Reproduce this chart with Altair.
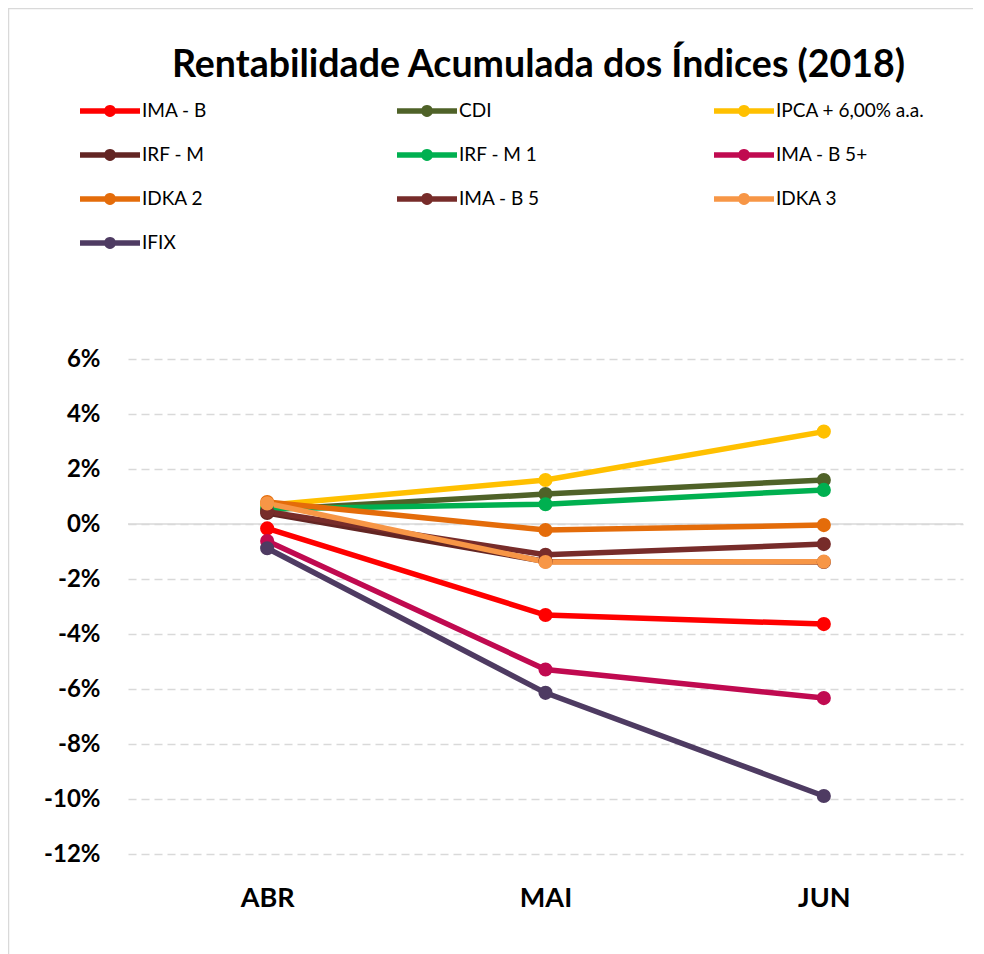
import altair as alt
import pandas as pd

months = ["ABR", "MAI", "JUN"]
series = ["IMA - B", "CDI", "IPCA + 6,00% a.a.", "IRF - M", "IRF - M 1",
          "IMA - B 5+", "IDKA 2", "IMA - B 5", "IDKA 3", "IFIX"]
colors = ["#FF0000", "#4F6228", "#FFC000", "#632523", "#00B050",
          "#C00A50", "#E46C0A", "#772C2A", "#F79646", "#4E3B62"]

# accumulated return, in percent, ABR / MAI / JUN
ima_b = [-0.16, -3.31, -3.64]
cdi = [0.52, 1.09, 1.60]
ipca6 = [0.68, 1.60, 3.36]
irf_m = [0.40, -1.36, -1.38]
irf_m1 = [0.55, 0.72, 1.24]
ima_b5p = [-0.62, -5.29, -6.33]
idka2 = [0.80, -0.22, -0.04]
ima_b5 = [0.45, -1.12, -0.73]
idka3 = [0.75, -1.38, -1.37]
ifix = [-0.88, -6.14, -9.89]

values = [ima_b, cdi, ipca6, irf_m, irf_m1, ima_b5p, idka2, ima_b5, idka3, ifix]
y_ticks = [-12, -10, -8, -6, -4, -2, 0, 2, 4, 6]

rows = []
for si, (name, vals) in enumerate(zip(series, values)):
    for mi, (m, v) in enumerate(zip(months, vals)):
        rows.append({"serie": name, "mes": m, "valor": v / 100, "ordem": mi, "s": si})
df = pd.DataFrame(rows)

FONT = "Lato"
W, H = 835, 495
PL, PT = 120, 351

x_enc = alt.X("mes:N", sort=months,
              scale=alt.Scale(type="point", padding=0.5),
              axis=alt.Axis(title=None, labelFontSize=27, labelFontWeight="bold",
                            labelColor="#000000", labelPadding=31, domain=False,
                            ticks=False, labelAngle=0, grid=False))
y_enc = alt.Y("valor:Q",
              scale=alt.Scale(domain=[-0.12, 0.06], nice=False, zero=False),
              axis=alt.Axis(title=None, values=[t / 100 for t in y_ticks],
                            labelExpr="round(datum.value*100) + '%'",
                            gridDash=[8, 5], gridColor="#D9D9D9", gridWidth=1.5,
                            domain=False, ticks=False, labelPadding=28,
                            labelFontSize=24, labelFontWeight="bold",
                            labelColor="#000000"))

fill_scale = alt.Scale(domain=series, range=colors)
stroke_scale = alt.Scale(domain=series[::-1], range=colors[::-1])

sym_path = ("M-3 -0.28L-0.53 -0.28A0.6 0.6 0 0 1 0.53 -0.28L3 -0.28L3 0.28"
            "L0.53 0.28A0.6 0.6 0 0 1 -0.53 0.28L-3 0.28Z")

frame = alt.Chart(pd.DataFrame({"v": [0]})).mark_rect(
    fillOpacity=0, stroke="#D9D9D9", strokeWidth=1.5, clip=False
).encode(x=alt.value(-PL + 0.5), x2=alt.value(W + 200),
         y=alt.value(-PT + 0.5), y2=alt.value(H + 300))

zero = alt.Chart(pd.DataFrame({"v": [0.0]})).mark_rule(
    color="#D9D9D9", strokeWidth=1.5
).encode(y="v:Q")

lines = alt.Chart(df).mark_line(strokeWidth=5.5).encode(
    x=x_enc, y=y_enc,
    stroke=alt.Stroke("serie:N", scale=stroke_scale, legend=None),
    detail="serie:N",
    order="ordem:Q",
)

points = alt.Chart(df).mark_point(filled=True, size=200, opacity=1).encode(
    x=x_enc, y=y_enc,
    fill=alt.Fill("serie:N", scale=fill_scale,
                  legend=alt.Legend(title=None, orient="none", legendX=-28, legendY=-258,
                                    direction="horizontal", columns=3, gridAlign="all",
                                    columnPadding=106, rowPadding=24,
                                    symbolType=sym_path, symbolSize=400,
                                    symbolStrokeWidth=0, labelOffset=22,
                                    labelFontSize=19, labelFont=FONT,
                                    labelColor="#000000", labelLimit=400, padding=0)),
    order="s:Q",
)

chart = alt.layer(frame, zero, lines, points).properties(
    width=W, height=H,
    title=alt.TitleParams("Rentabilidade Acumulada dos Índices (2018)",
                          fontSize=37.5, font=FONT, fontWeight="bold",
                          color="#000000", anchor="middle", frame="group",
                          offset=-77, dx=-7),
    autosize=alt.AutoSizeParams(type="none"),
    padding={"left": PL, "top": PT, "right": 10, "bottom": 100},
    view=alt.ViewBackground(stroke="transparent", strokeWidth=0),
).configure_view(stroke="transparent", strokeWidth=0).configure(font=FONT)

chart.save("out.html", embed_options={"renderer": "svg", "actions": False})
